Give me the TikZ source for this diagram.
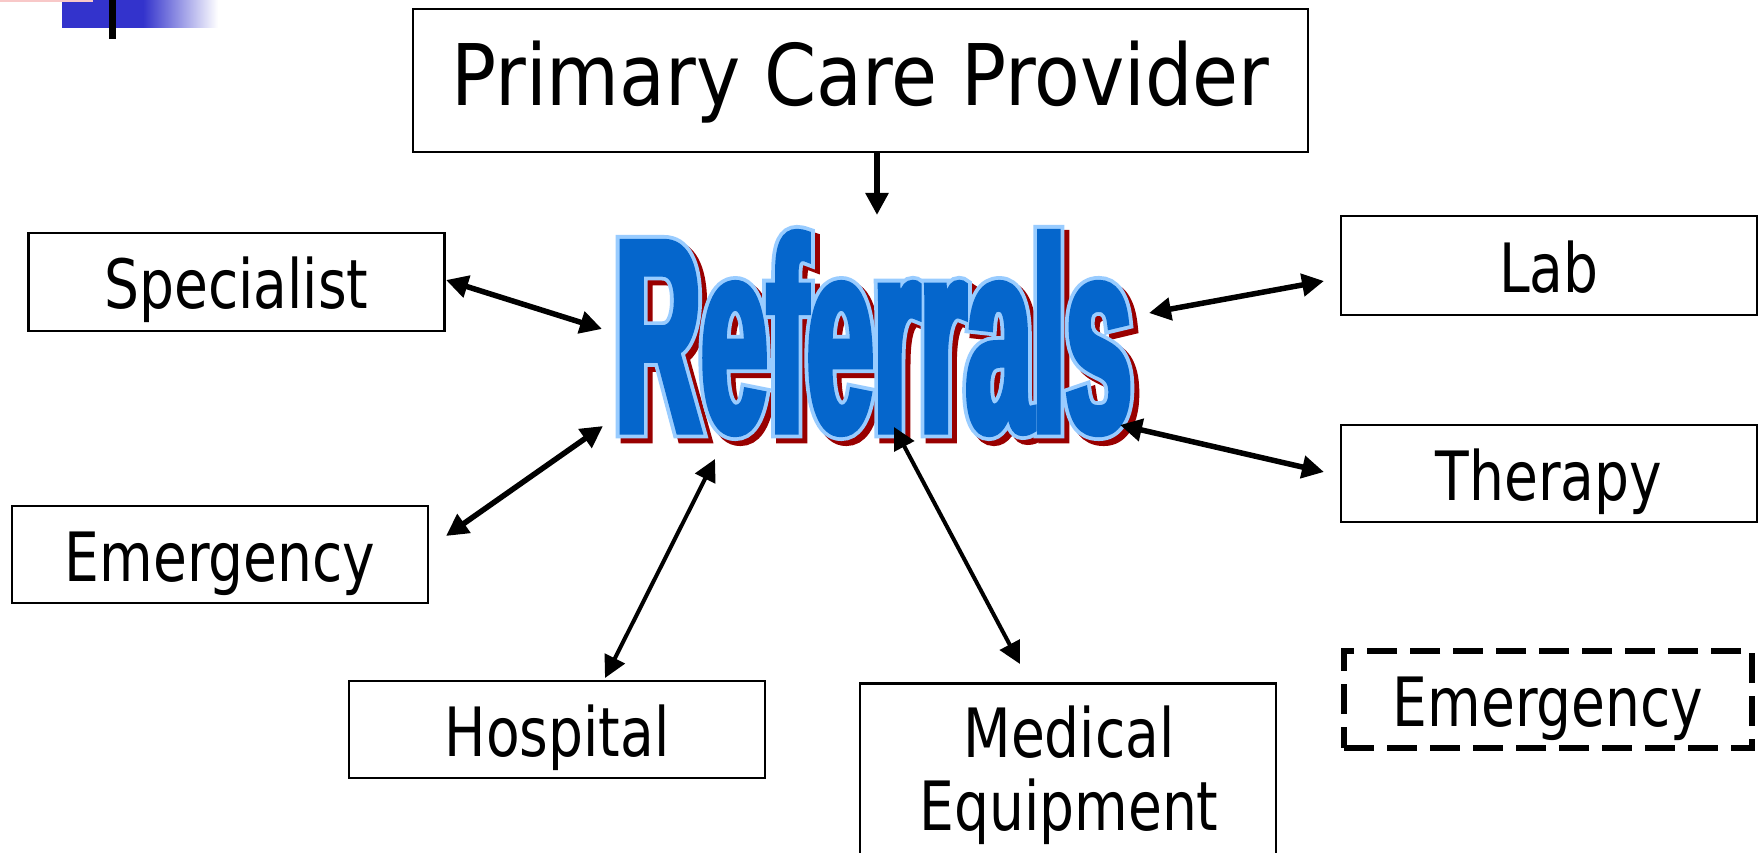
\documentclass[tikz,border=0pt]{standalone}
\usepackage{fontspec}
\setmainfont{DejaVu Sans}[FakeStretch=0.81]
\newfontfamily\pcpfont{DejaVu Sans}[FakeStretch=0.88]
\newfontfamily\reffill{Liberation Sans Bold}[FakeStretch=0.435, FakeBold=2.6]
\newfontfamily\refedge{Liberation Sans Bold}[FakeStretch=0.435, FakeBold=5.4]
\usetikzlibrary{arrows.meta,calc}
\definecolor{refblue}{HTML}{0566CC}
\definecolor{refout}{HTML}{99CCFF}
\definecolor{refshadow}{HTML}{990000}
\definecolor{decoblue}{HTML}{3333CC}
\definecolor{decopink}{HTML}{F8C8C8}
\tikzset{
  box/.style={draw=black, line width=2.5pt, fill=white, minimum width=416pt, minimum height=98pt,
    inner sep=0pt, text height=60pt, text depth=7pt, font=\fontsize{68pt}{73pt}\selectfont},
  lbl/.style={inner sep=0pt, font=\fontsize{68pt}{73pt}\selectfont},
  reftext/.style={inner sep=0pt, anchor=center},
  link/.style={line width=5.5pt, {Triangle[length=22pt,width=22pt]}-{Triangle[length=22pt,width=22pt]}},
  thinlink/.style={link, line width=4pt},
  feed/.style={line width=5.5pt, -{Triangle[length=22pt,width=22pt]}},
}
\begin{document}
\begin{tikzpicture}[x=1pt,y=-1pt]
\useasboundingbox (0,0) rectangle (1758,853);
\fill[white] (0,0) rectangle (1758,853);
% corner decoration
\fill[decoblue] (62,0) rectangle (144,28);
\shade[left color=decoblue, right color=white] (143,0) rectangle (218,28);
\fill[black] (109,0) rectangle (116,39);
\fill[decopink] (0,0) rectangle (93,2);
% boxes
\node[box, minimum width=895pt, minimum height=143pt, text height=62pt, text depth=11pt,
  font=\pcpfont\fontsize{85pt}{90pt}\selectfont] (pcp) at (860.5,80.5) {Primary Care Provider};
\node[box] (spec) at (236.5,282) {Specialist};
\node[box, minimum height=97pt] (emerL) at (220,554.5) {Emergency};
\node[box, minimum height=97pt] (hosp) at (557,729.5) {Hospital};
\node[box, minimum height=99pt] (lab) at (1549,265.5) {Lab};
\node[box, minimum height=97pt] (ther) at (1549,473.5) {Therapy};
\node[box, line width=6pt, dash pattern=on 30pt off 13pt, minimum width=408pt, minimum height=97pt] (emerR) at (1548,699.5) {Emergency};
\node[box, minimum height=240pt, anchor=north] (med) at (1068,682) {};
\node[lbl, anchor=base] (medA) at (1069,757) {Medical};
\node[lbl, anchor=base] (medB) at (1069,830) {Equipment};
% Referrals word art
\coordinate (refc) at (873.5,333);
\node[reftext, text=refshadow, font=\refedge\fontsize{274pt}{280pt}\selectfont] (refS) at ($(refc)+(5,5)$) {Referrals};
\node[reftext, text=refout, font=\refedge\fontsize{274pt}{280pt}\selectfont] (refO) at (refc) {Referrals};
\node[reftext, text=refblue, font=\reffill\fontsize{274pt}{280pt}\selectfont] (ref) at (refc) {Referrals};
% connector ends
\coordinate (p1) at (877,152); \coordinate (p2) at (877,215);
\coordinate (s1) at (446,280); \coordinate (s2) at (602,329);
\coordinate (e1) at (446,536); \coordinate (e2) at (603,426);
\coordinate (h1) at (605,678); \coordinate (h2) at (715,459);
\coordinate (m1) at (894,427); \coordinate (m2) at (1020,664);
\coordinate (l1) at (1149,313); \coordinate (l2) at (1324,281);
\coordinate (t1) at (1120,425); \coordinate (t2) at (1324,472);
\draw[feed] (p1) -- (p2);
\draw[link] (s1) -- (s2);
\draw[link] (e1) -- (e2);
\draw[thinlink] (h1) -- (h2);
\draw[thinlink] (m1) -- (m2);
\draw[link] (l1) -- (l2);
\draw[link] (t1) -- (t2);
\end{tikzpicture}
\end{document}
